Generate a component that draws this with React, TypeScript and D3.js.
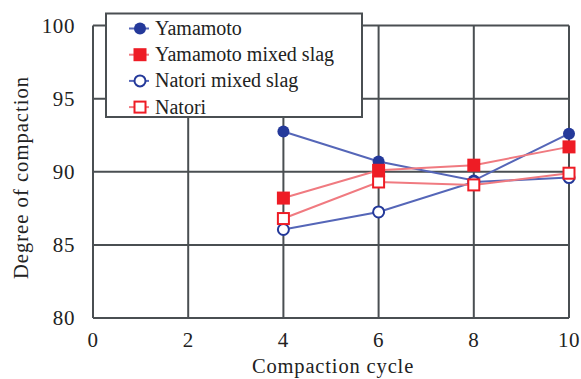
import React from "react";
import * as d3 from "d3";

const cycles = [4, 6, 8, 10];
const yamamoto = [92.75, 90.7, 89.4, 92.6];
const yamamotoSlag = [88.2, 90.1, 90.45, 91.7];
const natoriSlag = [86.05, 87.25, 89.3, 89.6];
const natori = [86.8, 89.3, 89.1, 89.9];

const xTicks = [0, 2, 4, 6, 8, 10];
const yTicks = [80, 85, 90, 95, 100];

const seriesNames = ["Yamamoto", "Yamamoto mixed slag", "Natori mixed slag", "Natori"];

const BLUE = "#24399a";
const BLUE_LINE = "#5566b8";
const RED = "#ee1c25";
const RED_LINE = "#f07a80";
const GRID = "#4a4f52";

type Series = { name: string; values: number[]; color: string; line: string; shape: "circle" | "square"; filled: boolean };

const series: Series[] = [
  { name: seriesNames[0], values: yamamoto, color: BLUE, line: BLUE_LINE, shape: "circle", filled: true },
  { name: seriesNames[1], values: yamamotoSlag, color: RED, line: RED_LINE, shape: "square", filled: true },
  { name: seriesNames[2], values: natoriSlag, color: BLUE, line: BLUE_LINE, shape: "circle", filled: false },
  { name: seriesNames[3], values: natori, color: RED, line: RED_LINE, shape: "square", filled: false },
];

function Marker({ s, cx, cy }: { s: Series; cx: number; cy: number }) {
  const fill = s.filled ? s.color : "#fff";
  if (s.shape === "circle") {
    return <circle cx={cx} cy={cy} r={s.filled ? 6 : 5.5} fill={fill} stroke={s.color} strokeWidth={s.filled ? 0 : 2} />;
  }
  const h = s.filled ? 6.5 : 5.5;
  return <rect x={cx - h} y={cy - h} width={h * 2} height={h * 2} fill={fill} stroke={s.color} strokeWidth={s.filled ? 0 : 2} />;
}

const textStyle: React.CSSProperties = { fontFamily: "Liberation Serif, serif", fill: "#222" };

export default function App() {
  const width = 581;
  const height = 379;
  const x = d3.scaleLinear().domain([0, 10]).range([93, 569]);
  const y = d3.scaleLinear().domain([80, 100]).range([318, 25.5]);
  const line = d3
    .line<number>()
    .x((_, i) => x(cycles[i]))
    .y((d) => y(d));

  return (
    <svg width={width} height={height} style={{ position: "absolute", left: 0, top: 0, background: "#fff" }}>
      {/* grid and frame */}
      {xTicks.map((t) => (
        <line key={"gx" + t} x1={x(t)} x2={x(t)} y1={y(100)} y2={y(80)} stroke={GRID} strokeWidth={2} />
      ))}
      {yTicks.map((t) => (
        <line key={"gy" + t} x1={x(0)} x2={x(10)} y1={y(t)} y2={y(t)} stroke={GRID} strokeWidth={2} />
      ))}

      {/* tick labels */}
      {yTicks.map((t) => (
        <text key={"ty" + t} x={75} y={y(t) + 7} textAnchor="end" style={{ ...textStyle, fontSize: 21, letterSpacing: 0.6 }}>
          {t}
        </text>
      ))}
      {xTicks.map((t) => (
        <text key={"tx" + t} x={x(t)} y={347} textAnchor="middle" style={{ ...textStyle, fontSize: 21, letterSpacing: 0.6 }}>
          {t}
        </text>
      ))}
      <text x={333} y={373} textAnchor="middle" style={{ ...textStyle, fontSize: 20.5, letterSpacing: 0.85 }}>
        Compaction cycle
      </text>
      <text transform={`translate(28, 177.5) rotate(-90)`} textAnchor="middle" style={{ ...textStyle, fontSize: 20.5, letterSpacing: 1.05 }}>
        Degree of compaction
      </text>

      {/* series lines and markers */}
      {series.map((s) => (
        <path key={"l" + s.name} d={line(s.values) || ""} fill="none" stroke={s.line} strokeWidth={2} />
      ))}
      {series.map((s) => (
        <g key={"m" + s.name}>
          {s.values.map((v, i) => (
            <Marker key={i} s={s} cx={x(cycles[i])} cy={y(v)} />
          ))}
        </g>
      ))}

      {/* legend */}
      <rect x={106} y={13.5} width={256} height={103.5} fill="#fff" stroke={GRID} strokeWidth={2} />
      {series.map((s, i) => {
        const ly = 28.5 + i * 26.2;
        return (
          <g key={"lg" + s.name}>
            <line x1={129} x2={149} y1={ly} y2={ly} stroke={s.line} strokeWidth={2} />
            <Marker s={s} cx={140} cy={ly} />
            <text x={155} y={ly + 6.5} style={{ ...textStyle, fontSize: 20 }}>
              {s.name}
            </text>
          </g>
        );
      })}
    </svg>
  );
}
